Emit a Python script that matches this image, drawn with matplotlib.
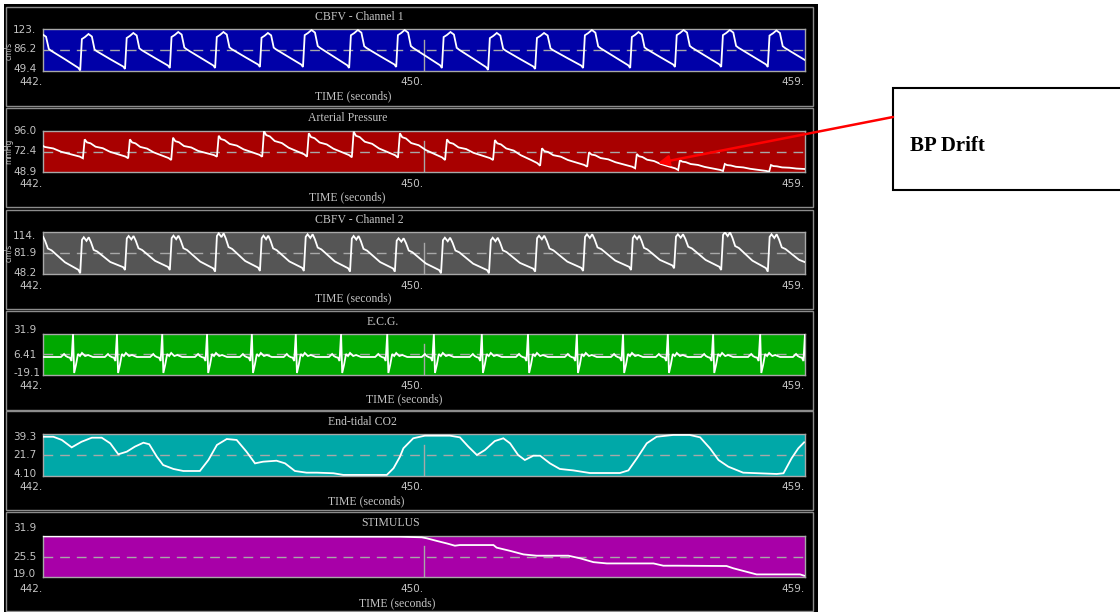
import matplotlib
matplotlib.use("Agg")
import matplotlib.pyplot as plt
from matplotlib.patches import Rectangle

# ---------------- data ----------------
T_START, T_END = 441.5, 458.5
X_TICKS = [441.5, 450.0, 458.5]
X_TICK_LABELS = ["442.", "450.", "459."]
CURSOR_T = 450.0

TITLES = ["CBFV - Channel 1", "Arterial Pressure", "CBFV - Channel 2",
          "E.C.G.", "End-tidal CO2", "STIMULUS"]
UNITS = ["cm/s", "mmHg", "cm/s", "", "", ""]
Y_LIMITS = [(49.4, 123.0), (48.9, 96.0), (48.2, 114.0),
            (-19.1, 31.9), (4.10, 39.3), (19.0, 31.9)]
Y_LABELS = [("123.", "86.2", "49.4"), ("96.0", "72.4", "48.9"),
            ("114.", "81.9", "48.2"), ("31.9", "6.41", "-19.1"),
            ("39.3", "21.7", "4.10"), ("31.9", "25.5", "19.0")]
MID_LINES = [86.2, 72.45, 81.1, 6.41, 21.7, 25.45]
BG_COLORS = ["#0000a8", "#a80000", "#555555", "#00a800", "#00a8a8", "#a800a8"]

# CBFV channel 1: beat onsets (s), systolic peaks, diastolic troughs (cm/s)
CBFV1_ONSETS = [441.30, 442.33, 443.33, 444.33, 445.34, 446.34, 447.30, 448.33, 449.38,
                450.40, 451.43, 452.48, 453.55, 454.60, 455.60, 456.63, 457.67]
CBFV1_PEAKS = [114.0, 114.7, 116.5, 118.2, 118.2, 116.5, 121.8, 121.8, 121.8,
               118.2, 116.5, 116.5, 121.8, 118.2, 121.8, 121.8, 121.0]
CBFV1_TROUGHS = [56.0, 50.3, 53.0, 54.7, 54.7, 56.5, 56.5, 54.7, 56.5,
                 54.7, 51.2, 53.0, 54.7, 54.7, 56.5, 56.5, 56.5, 56.0]
CBFV1_PHASE = [0.0, 0.037, 0.11, 0.185, 0.26, 0.32, 0.37, 0.67, 0.96, 1.0]
CBFV1_LEVEL = [0.0, 0.86, 0.92, 1.0, 0.93, 0.57, 0.52, 0.29, 0.07, 0.0]

# Arterial pressure (mmHg)
AP_ONSETS = [441.21, 442.39, 443.40, 444.36, 445.38, 446.39, 447.39, 448.39, 449.42,
             450.47, 451.54, 452.59, 453.64, 454.71, 455.67, 456.67, 457.70]
AP_PEAKS = [86.0, 86.5, 86.5, 88.4, 90.6, 96.0, 93.4, 95.2, 93.4,
            86.5, 85.7, 76.3, 71.8, 69.8, 62.9, 58.4, 57.2]
AP_TROUGHS = [65.0, 64.9, 64.9, 62.9, 66.7, 66.7, 66.7, 66.0, 65.6,
              62.9, 62.9, 56.4, 55.3, 53.5, 51.5, 50.4, 49.6, 52.0]
AP_PHASE = [0.0, 0.04, 0.09, 0.17, 0.28, 0.44, 0.59, 0.82, 0.94, 1.0]
AP_LEVEL = [0.0, 1.0, 0.84, 0.79, 0.61, 0.53, 0.35, 0.18, 0.09, 0.0]

# CBFV channel 2 (cm/s)
CBFV2_ONSETS = [441.30, 442.33, 443.33, 444.33, 445.34, 446.34, 447.32, 448.35, 449.35,
                450.38, 451.45, 452.48, 453.55, 454.62, 455.58, 456.63, 457.67]
CBFV2_PEAKS = [108.0, 106.2, 108.2, 108.7, 112.4, 108.7, 110.9, 108.2, 104.6,
               105.5, 105.5, 108.7, 110.9, 108.7, 110.9, 114.0, 110.9]
CBFV2_TROUGHS = [56.0, 49.8, 54.9, 54.9, 52.3, 53.4, 53.4, 52.3, 52.3,
                 49.8, 49.8, 52.3, 53.4, 54.9, 57.6, 54.9, 52.3, 58.0]
CBFV2_PHASE = [0.0, 0.04, 0.08, 0.14, 0.19, 0.24, 0.30, 0.38, 0.67, 0.96, 1.0]
CBFV2_LEVEL = [0.0, 0.93, 1.0, 0.90, 1.0, 0.86, 0.64, 0.59, 0.27, 0.09, 0.0]

# ECG: R-wave times (s) and one complex around the R wave
ECG_R = [442.17, 443.15, 444.16, 445.16, 446.16, 447.14, 448.15, 449.18, 450.22,
         451.29, 452.32, 453.41, 454.44, 455.44, 456.45, 457.50, 458.50]
ECG_OFFSETS = [-0.27, -0.20, -0.16, -0.11, -0.07, -0.035, 0.0, 0.025, 0.065,
               0.11, 0.155, 0.20, 0.27, 0.335, 0.445]
ECG_SHAPE = [3.3, 7.0, 4.5, 3.0, 2.5, -1.7, 31.9, -16.6, -6.7,
             7.0, 4.5, 8.3, 4.5, 5.8, 3.3]
ECG_BASELINE = 3.3

# End-tidal CO2
CO2_T = [441.51, 441.73, 441.92, 442.14, 442.36, 442.59, 442.81, 443.00, 443.18, 443.37,
         443.55, 443.74, 443.87, 444.04, 444.18, 444.41, 444.63, 445.00, 445.19, 445.38,
         445.60, 445.82, 446.04, 446.23, 446.41, 446.71, 446.90, 447.12, 447.38, 447.61,
         447.98, 448.20, 449.17, 449.32, 449.46, 449.54, 449.76, 450.02, 450.58, 450.80,
         450.99, 451.18, 451.36, 451.58, 451.77, 451.92, 452.10, 452.25, 452.44, 452.59,
         452.81, 453.03, 453.33, 453.70, 454.37, 454.56, 454.75, 454.97, 455.19, 455.56,
         455.93, 456.16, 456.38, 456.57, 456.79, 457.12, 457.87, 458.02, 458.20, 458.35,
         458.48]
CO2_V = [37.0, 37.0, 34.3, 28.1, 32.8, 36.2, 36.2, 31.5, 22.3, 24.5,
         28.7, 32.0, 30.7, 20.3, 13.3, 10.0, 8.3, 8.3, 17.5, 30.1,
         35.1, 34.3, 24.5, 14.7, 16.1, 16.9, 14.7, 8.3, 6.9, 6.9,
         6.4, 5.0, 5.0, 10.6, 20.0, 27.3, 35.7, 37.9, 37.9, 36.5,
         28.7, 21.7, 25.9, 33.4, 35.7, 31.5, 21.7, 17.5, 21.1, 21.1,
         14.7, 10.0, 8.8, 6.6, 6.6, 8.8, 18.9, 31.5, 37.0, 38.5,
         38.5, 36.5, 27.3, 17.5, 11.9, 6.9, 5.8, 6.4, 18.9, 27.3,
         32.3]

# Stimulus
STIM_T = [441.50, 449.46, 449.95, 450.06, 450.28, 450.51, 450.69, 450.80, 451.55, 451.62,
          451.92, 452.22, 452.51, 453.22, 453.48, 453.78, 454.08, 455.12, 455.34, 455.64,
          456.75, 456.90, 457.20, 457.42, 458.39, 458.48]
STIM_V = [31.7, 31.6, 31.4, 31.1, 30.3, 29.5, 28.8, 29.0, 29.0, 28.2,
          27.2, 26.1, 25.7, 25.7, 24.9, 23.7, 23.3, 23.3, 22.6, 22.6,
          22.5, 21.8, 20.7, 19.9, 19.9, 19.5]


def pulse_wave(onsets, peaks, troughs, phase, level):
    ts, vs = [], []
    n = len(onsets)
    for i in range(n):
        t0 = onsets[i]
        t1 = onsets[i + 1] if i + 1 < n else onsets[i] + (onsets[i] - onsets[i - 1])
        for p, l in zip(phase, level):
            base = troughs[i] * (1 - p) + troughs[i + 1] * p
            ts.append(t0 + p * (t1 - t0))
            vs.append(base + l * (peaks[i] - base))
    return ts, vs


def ecg_wave(r_times, offsets, shape, baseline):
    ts, vs = [T_START], [baseline]
    for r in r_times:
        for o, v in zip(offsets, shape):
            ts.append(r + o)
            vs.append(v)
    return ts, vs


SERIES = [
    pulse_wave(CBFV1_ONSETS, CBFV1_PEAKS, CBFV1_TROUGHS, CBFV1_PHASE, CBFV1_LEVEL),
    pulse_wave(AP_ONSETS, AP_PEAKS, AP_TROUGHS, AP_PHASE, AP_LEVEL),
    pulse_wave(CBFV2_ONSETS, CBFV2_PEAKS, CBFV2_TROUGHS, CBFV2_PHASE, CBFV2_LEVEL),
    ecg_wave(ECG_R, ECG_OFFSETS, ECG_SHAPE, ECG_BASELINE),
    (CO2_T, CO2_V),
    (STIM_T, STIM_V),
]

# ---------------- layout (pixels) ----------------
W, H = 1120, 612
PLOT_LEFT, PLOT_RIGHT = 43, 805
PLOT_TB = [(29.3, 71.0), (131.0, 172.3), (232.3, 274.3),
           (334.0, 375.0), (434.0, 476.0), (535.7, 577.3)]
STRIP_TOPS = [7, 108, 210, 311, 411, 512]
YLAB_Y = [(30, 49, 69), (131, 151, 172), (236, 253, 273),
          (330, 355, 373), (437, 455, 474), (528, 557, 574)]
TITLE_POS = [(359, 17), (348, 118), (359, 220), (383, 322), (362, 422), (391, 523)]
TIME_POS = [(353, 96), (347, 197), (353, 298), (404, 399), (366, 501), (397, 603)]
UNIT_POS = [(9, 51), (9, 151), (9, 253)]

GRAY = "#a8a8a8"
TXT = "#c4c4c4"

fig = plt.figure(figsize=(W / 100, H / 100), dpi=100)
fig.patch.set_facecolor("white")

bg = fig.add_axes([0, 0, 1, 1], zorder=0)
bg.set_xlim(0, W)
bg.set_ylim(H, 0)
bg.axis("off")
bg.add_patch(Rectangle((4, 4), 814, 610, facecolor="black", edgecolor="none"))
for top in STRIP_TOPS:
    bg.add_patch(Rectangle((6, top), 807, 99, fill=False, edgecolor="#8c8c8c", lw=1.0))

for i, ((ts, vs), (top, bot)) in enumerate(zip(SERIES, PLOT_TB)):
    ax = fig.add_axes([PLOT_LEFT / W, 1 - bot / H, (PLOT_RIGHT - PLOT_LEFT) / W, (bot - top) / H],
                      zorder=2)
    ax.set_facecolor(BG_COLORS[i])
    ax.set_xlim(T_START, T_END)
    ax.set_ylim(*Y_LIMITS[i])
    for sp in ax.spines.values():
        sp.set_color(GRAY)
        sp.set_linewidth(1.0)
    ax.axhline(MID_LINES[i], color=GRAY, lw=1.0, dashes=(7, 5), zorder=1)
    ax.axvline(CURSOR_T, ymin=0, ymax=0.75, color=GRAY, lw=1.0, zorder=1)
    ax.plot(ts, vs, color="white", lw=1.3, zorder=3, solid_joinstyle="miter")
    ax.set_yticks([])
    ax.set_xticks(X_TICKS)
    ax.set_xticklabels(X_TICK_LABELS, ha="right", color=TXT, fontsize=7.5,
                       family="DejaVu Sans")
    ax.tick_params(axis="x", length=0, pad=4.5)

ov = fig.add_axes([0, 0, 1, 1], zorder=10)
ov.patch.set_alpha(0)
ov.set_xlim(0, W)
ov.set_ylim(H, 0)
ov.axis("off")

for i in range(6):
    tx, ty = TITLE_POS[i]
    ov.text(tx, ty, TITLES[i], color=TXT, fontsize=8.5, family="Liberation Serif",
            ha="center", va="center")
    mx, my = TIME_POS[i]
    ov.text(mx, my, "TIME (seconds)", color=TXT, fontsize=8.5, family="Liberation Serif",
            ha="center", va="center")
    for lab, yy in zip(Y_LABELS[i], YLAB_Y[i]):
        ov.text(13, yy, lab, color=TXT, fontsize=7.5, family="DejaVu Sans",
                ha="left", va="center")
for (ux, uy), unit in zip(UNIT_POS, UNITS[:3]):
    ov.text(ux, uy, unit, color=TXT, fontsize=5.5, family="DejaVu Sans",
            rotation=90, ha="center", va="center")

# annotation
ov.add_patch(Rectangle((893, 88), 240, 102, facecolor="white", edgecolor="black",
                       lw=1.5, clip_on=False))
ov.text(910, 146, "BP Drift", fontsize=15, fontweight="bold", family="Liberation Serif",
        ha="left", va="center", color="black")
ov.annotate("", xy=(658, 163), xytext=(893, 117),
            arrowprops=dict(arrowstyle="-|>", color="#ff0000", lw=1.8,
                            mutation_scale=16, shrinkA=0, shrinkB=0))

fig.savefig("out.png", dpi=100, facecolor="white")
